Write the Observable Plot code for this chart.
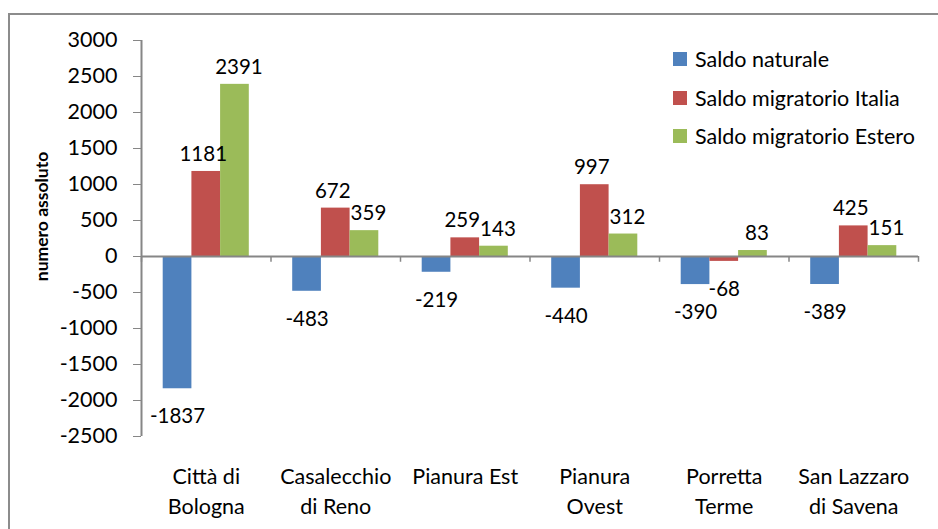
<!DOCTYPE html>
<html>
<head>
<meta charset="utf-8">
<script src="https://cdn.jsdelivr.net/npm/d3@7"></script>
<script src="https://cdn.jsdelivr.net/npm/@observablehq/plot@0.6"></script>
<style>
  html, body { margin: 0; padding: 0; background: #fff; overflow: hidden; }
  #wrap { position: relative; width: 938px; height: 529px; font-family: Lato, "Open Sans", sans-serif; }
  #frame { position: absolute; left: 8px; top: 13px; width: 1200px; height: 1200px; border: 2px solid #8c8c8c; box-sizing: border-box; pointer-events: none; }
  #legend { position: absolute; left: 673px; top: 40px; font-size: 21.5px; color: #000; }
  #legend .row { display: flex; align-items: center; height: 38.5px; }
  #legend .sw { width: 14px; height: 14px; margin-right: 8px; }
  svg g[aria-label^="y-axis"] line, svg g[aria-label^="y-axis"] path { stroke: #868686; }
</style>
</head>
<body>
<div id="wrap">
  <div id="chart"></div>
  <div id="frame"></div>
  <div id="legend"></div>
</div>
<script>
const categories = ["Città di\nBologna", "Casalecchio\ndi Reno", "Pianura Est", "Pianura\nOvest", "Porretta\nTerme", "San Lazzaro\ndi Savena"];
const seriesNames = ["Saldo naturale", "Saldo migratorio Italia", "Saldo migratorio Estero"];
const saldoNaturale = [-1837, -483, -219, -440, -390, -389];
const saldoItalia = [1181, 672, 259, 997, -68, 425];
const saldoEstero = [2391, 359, 143, 312, 83, 151];
const yTicks = [-2500, -2000, -1500, -1000, -500, 0, 500, 1000, 1500, 2000, 2500, 3000];
const colors = ["#4F81BD", "#C0504D", "#9BBB59"];

const seriesValues = [saldoNaturale, saldoItalia, saldoEstero];
const barW = 0.2216;
const groupOff = (1 - 3 * barW) / 2;
const rows = [];
categories.forEach((c, i) => {
  seriesNames.forEach((s, j) => {
    const x1 = i + groupOff + j * barW;
    rows.push({cat: c, series: s, j, value: seriesValues[j][i], x1, x2: x1 + barW, xc: x1 + barW / 2});
  });
});
const boundaries = d3.range(categories.length + 1);
const labelDx = [0, -3, 4];
const pos = rows.filter(d => d.value >= 0);
const neg = rows.filter(d => d.value < 0);

const chart = Plot.plot({
  width: 938,
  height: 529,
  marginLeft: 141,
  marginRight: 20,
  marginTop: 40,
  marginBottom: 93,
  style: {fontFamily: "Lato, 'Open Sans', sans-serif", fontSize: "21.5px", color: "#000", background: "transparent"},
  x: {domain: [0, categories.length], axis: null},
  y: {domain: [-2500, 3000], ticks: yTicks, tickFormat: d => String(d), tickSize: 8, tickPadding: 16, label: null},
  color: {domain: seriesNames, range: colors},
  marks: [
    Plot.rect(rows, {x1: "x1", x2: "x2", y1: () => 0, y2: "value", fill: "series"}),
    Plot.ruleY([0], {stroke: "#868686", strokeWidth: 2}),
    Plot.ruleX([0], {y1: -2500, y2: 3000, stroke: "#868686", strokeWidth: 2}),
    Plot.ruleX(boundaries, {x: d => d, y1: () => 0, y2: () => -80, stroke: "#868686", strokeWidth: 1.5}),
    ...[0, 1, 2].map(j => Plot.text(pos.filter(d => d.j === j), {x: "xc", y: "value", text: d => String(d.value), dy: -17, dx: labelDx[j], fill: "#000", fontSize: 20.5})),
    Plot.text(neg, {x: "xc", y: "value", text: d => String(d.value), dy: 28, fill: "#000", fontSize: 20.5}),
    Plot.text(categories, {x: (d, i) => i + 0.5, frameAnchor: "bottom", lineAnchor: "top", dy: 27, lineHeight: 1.36, text: d => d, fill: "#000", fontSize: 21.5}),
    Plot.text(["numero assoluto"], {frameAnchor: "left", textAnchor: "middle", rotate: -90, dx: -99, dy: -22, text: d => d, fill: "#000", fontSize: 17.5, fontWeight: "bold"})
  ]
});
document.getElementById("chart").appendChild(chart);

const legend = document.getElementById("legend");
seriesNames.forEach((s, j) => {
  const row = document.createElement("div");
  row.className = "row";
  const sw = document.createElement("div");
  sw.className = "sw";
  sw.style.background = colors[j];
  const t = document.createElement("span");
  t.textContent = s;
  row.appendChild(sw);
  row.appendChild(t);
  legend.appendChild(row);
});
</script>
</body>
</html>
